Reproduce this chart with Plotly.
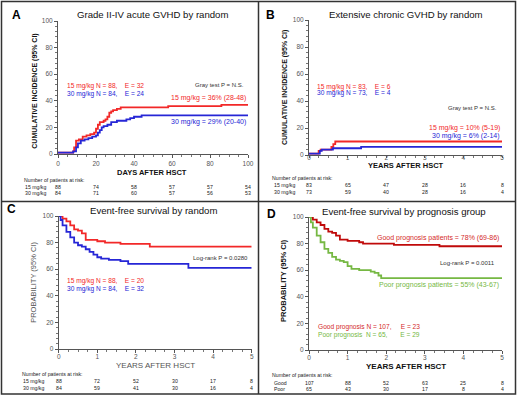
import plotly.graph_objects as go

# ---------------- data ----------------
# Panel A: Grade II-IV acute GVHD (days)
a_red_t = [0, 8, 8.5, 9.5, 11, 13, 15, 17, 19, 20, 21, 22, 24, 25, 26, 27, 28, 29, 31, 33, 58, 86, 100]
a_red_v = [1, 2, 5, 10, 11, 13, 14, 15, 16, 19, 22, 24, 25, 26, 28, 31, 32, 33, 34, 35, 36, 37, 37]
a_blue_t = [0, 8, 9.5, 10.5, 12, 14, 16, 18, 20, 21, 22, 23, 24, 26, 28, 31, 36, 38, 40, 44, 100]
a_blue_v = [1, 2, 5, 8, 10, 11, 12, 13, 14, 16, 18, 20, 21, 22, 24, 25, 26, 27, 28, 29, 29]

# Panel B: extensive chronic GVHD (years)
b_red_t = [0, 0.25, 0.3, 0.52, 0.58, 0.63, 0.68, 5]
b_red_v = [1, 3, 4, 4, 6, 8, 10, 10]
b_blue_t = [0, 0.28, 0.33, 0.62, 1.35, 5]
b_blue_v = [1, 3, 4, 5, 6, 6]

# Panel C: EFS by random
c_red_t = [0, 0.1, 0.2, 0.3, 0.4, 0.5, 0.6, 0.7, 1.0, 1.2, 1.6, 2.36, 5]
c_red_v = [100, 98, 96, 93, 90, 89, 87, 82, 81, 80, 79, 77, 77]
c_blue_t = [0, 0.05, 0.1, 0.2, 0.3, 0.4, 0.5, 0.6, 0.7, 0.8, 0.9, 1.0, 1.1, 1.3, 1.6, 1.8, 3.36, 5]
c_blue_v = [100, 97, 93, 88, 84, 80, 78, 77, 75, 73, 71, 69, 68, 67, 66, 64, 61, 61]

# Panel D: EFS by prognosis group
d_good_t = [0, 0.1, 0.2, 0.3, 0.4, 0.5, 0.6, 0.7, 0.8, 1.0, 1.3, 1.4, 2.2, 3.38, 5]
d_good_v = [100, 98, 96, 94, 91, 89, 88, 86, 83, 82, 81, 80, 79, 78, 78]
d_poor_t = [0, 0.05, 0.1, 0.2, 0.3, 0.4, 0.5, 0.6, 0.7, 0.8, 0.9, 1.0, 1.1, 1.3, 1.6, 1.7, 1.8, 1.87, 5]
d_poor_v = [100, 96, 92, 86, 81, 76, 73, 70, 68, 67, 66, 63, 61, 60, 59, 58, 56, 54, 54]

# Risk tables
a_risk_x = [0, 20, 40, 60, 80, 100]
a_risk_15 = [88, 74, 58, 57, 57, 54]
a_risk_30 = [84, 71, 60, 57, 56, 53]
yr_risk_x = [0, 1, 2, 3, 4, 5]
b_risk_15 = [83, 65, 47, 28, 16, 8]
b_risk_30 = [73, 59, 40, 28, 16, 4]
c_risk_15 = [88, 72, 52, 30, 17, 8]
c_risk_30 = [84, 59, 41, 30, 16, 4]
d_risk_good = [107, 88, 52, 63, 25, 8]
d_risk_poor = [65, 43, 30, 17, 8, 4]

RED = "#f22828"
BLUE = "#2626d6"
DRED = "#c00a0a"
GREEN = "#76b843"
FONT = "Liberation Sans, Arial, sans-serif"

W, H = 520, 399
def px(p): return p / W
def py(p): return 1 - p / H

fig = go.Figure()

# axes geometry in pixels: (x0, x1, ytop, ybottom)
panels = {
    "1": (58, 248, 21, 154),
    "2": (309, 502, 20, 155),
    "3": (58.7, 251.7, 216, 349),
    "4": (309, 502, 217, 350),
}
xranges = {"1": [0, 100], "2": [0, 5], "3": [0, 5], "4": [0, 5]}
xdt = {"1": 20, "2": 1, "3": 1, "4": 1}
xminor = {"1": 5, "2": 0.25, "3": 0.25, "4": 0.25}
xstand = {"1": 0, "2": -6, "3": -2, "4": -2}
xticklen = {"1": 3, "2": 2, "3": 3, "4": 3}
layout_axes = {}
for k, (x0, x1, yt, yb) in panels.items():
    xa = "xaxis" if k == "1" else f"xaxis{k}"
    ya = "yaxis" if k == "1" else f"yaxis{k}"
    layout_axes[xa] = dict(
        domain=[px(x0), px(x1)], range=xranges[k], dtick=xdt[k], tick0=0,
        anchor="y" if k == "1" else f"y{k}", automargin=False,
        showline=True, linecolor="#555", linewidth=1, showgrid=False, zeroline=False,
        ticks="outside", ticklen=xticklen[k], tickcolor="#555", ticklabelstandoff=xstand[k],
        minor=dict(ticks="outside", ticklen=2, dtick=xminor[k], tickcolor="#777"),
        tickfont=dict(family=FONT, size=6.5, color="#555"),
        fixedrange=True,
    )
    layout_axes[ya] = dict(
        domain=[py(yb), py(yt)], range=[0, 100], dtick=20, tick0=0,
        anchor="x" if k == "1" else f"x{k}", automargin=False,
        showline=True, linecolor="#555", linewidth=1, showgrid=False, zeroline=False,
        ticks="outside", ticklen=3, tickcolor="#555",
        minor=dict(ticks="outside", ticklen=2, dtick=4, tickcolor="#777"),
        tickfont=dict(family=FONT, size=6.5, color="#555"),
        fixedrange=True,
    )

def add_line(t, v, color, k, width=1.8):
    fig.add_trace(go.Scatter(
        x=t, y=v, mode="lines", line=dict(color=color, width=width, shape="hv"),
        xaxis="x" if k == "1" else f"x{k}", yaxis="y" if k == "1" else f"y{k}",
        showlegend=False, hoverinfo="skip", cliponaxis=False))

add_line(a_red_t, a_red_v, RED, "1")
add_line(a_blue_t, a_blue_v, BLUE, "1")
add_line(b_red_t, b_red_v, RED, "2")
add_line(b_blue_t, b_blue_v, BLUE, "2")
add_line(c_red_t, c_red_v, RED, "3")
add_line(c_blue_t, c_blue_v, BLUE, "3")
add_line(d_good_t, d_good_v, DRED, "4")
add_line(d_poor_t, d_poor_v, GREEN, "4")

ann = []
def txt(x, y, s, size=7, color="#222", xanchor="center", xref="paper", yref="paper", bold=False, angle=0):
    if bold:
        s = f"<b>{s}</b>"
    ann.append(dict(x=x, y=y, text=s, xref=xref, yref=yref, showarrow=False,
                    xanchor=xanchor, yanchor="middle", textangle=angle,
                    font=dict(family=FONT, size=size, color=color)))

# Panel letters and titles
txt(px(16), py(15), "A", 12, "#000", bold=True)
txt(px(270.5), py(15), "B", 12, "#000", bold=True)
txt(px(11), py(209), "C", 12, "#000", bold=True)
txt(px(271), py(214), "D", 12, "#000", bold=True)
txt(px(152.5), py(14.7), "Grade II-IV acute GVHD by random", 9.6, "#111")
txt(px(405.8), py(14.7), "Extensive chronic GVHD by random", 9.6, "#111")
txt(px(153.7), py(210), "Event-free survival by random", 9.6, "#111")
txt(px(404.3), py(211.7), "Event-free survival by prognosis group", 9.6, "#111")

# Y axis titles
txt(px(35), py(91.7), "CUMULATIVE INCIDENCE (95% CI)", 7, "#111", bold=True, angle=-90)
txt(px(285), py(88), "CUMULATIVE INCIDENCE (95% CI)", 7, "#111", bold=True, angle=-90)
txt(px(33.3), py(282.5), "PROBABILITY (95% CI)", 7.5, "#555", angle=-90)
txt(px(283), py(281), "PROBABILITY (95% CI)", 7.5, "#111", bold=True, angle=-90)

# X axis titles
txt(px(152), py(172.3), "DAYS AFTER HSCT", 7.5, "#111", bold=True)
txt(px(405.5), py(165.8), "YEARS AFTER HSCT", 7.5, "#111", bold=True)
txt(px(155), py(365.7), "YEARS AFTER HSCT", 8, "#555")
txt(px(405.5), py(366), "YEARS AFTER HSCT", 8, "#111", bold=True)

# In-plot annotations
IS = 6.6
txt(3.7, 51, "15 mg/kg N = 88,&nbsp;&nbsp;&nbsp;&nbsp;E = 32", IS, RED, "left", "x", "y")
txt(3.7, 45, "30 mg/kg N = 84,&nbsp;&nbsp;&nbsp;&nbsp;E = 24", IS, BLUE, "left", "x", "y")
txt(99, 52, "Gray test P = N.S.", 6, "#333", "right", "x", "y")
txt(100, 42, "15 mg/kg = 36% (28-48)", 7, RED, "right", "x", "y")
txt(100, 24, "30 mg/kg = 29% (20-40)", 7, BLUE, "right", "x", "y")

txt(0.15, 50.6, "15 mg/kg N = 83,&nbsp;&nbsp;&nbsp;&nbsp;E = 6", IS, RED, "left", "x2", "y2")
txt(0.15, 45.7, "30 mg/kg N = 73,&nbsp;&nbsp;&nbsp;&nbsp;E = 4", IS, BLUE, "left", "x2", "y2")
txt(4.93, 35, "Gray test P = N.S.", 6, "#333", "right", "x2", "y2")
txt(5.0, 20, "15 mg/kg = 10% (5-19)", 7, RED, "right", "x2", "y2")
txt(5.0, 14, "30 mg/kg = 6% (2-14)", 7, BLUE, "right", "x2", "y2")

txt(5.06, 80.5, "15 mg/kg = 77% (68-85)", 7, RED, "right", "x3", "y3")
txt(4.95, 68.4, "Log-rank P = 0.0280", 6, "#333", "right", "x3", "y3")
txt(5.06, 56.4, "30 mg/kg = 61% (50-72)", 7, BLUE, "right", "x3", "y3")
txt(0.16, 50.9, "15 mg/kg N = 88,&nbsp;&nbsp;&nbsp;&nbsp;E = 20", IS, RED, "left", "x3", "y3")
txt(0.16, 45, "30 mg/kg N = 84,&nbsp;&nbsp;&nbsp;&nbsp;E = 32", IS, BLUE, "left", "x3", "y3")

txt(4.97, 84, "Good prognosis patients = 78% (69-86)", 7, "#d42a2a", "right", "x4", "y4")
txt(4.87, 65.6, "Log-rank P = 0.0011", 6, "#333", "right", "x4", "y4")
txt(4.97, 48.9, "Poor prognosis patients = 55% (43-67)", 7, GREEN, "right", "x4", "y4")
txt(0.18, 17, "Good prognosis N = 107,&nbsp;&nbsp;&nbsp;&nbsp;&nbsp;E = 23", IS, "#d42a2a", "left", "x4", "y4")
txt(0.18, 11.3, "Poor prognosis&nbsp;&nbsp;N = 65,&nbsp;&nbsp;&nbsp;&nbsp;&nbsp;&nbsp;&nbsp;E = 29", IS, GREEN, "left", "x4", "y4")

# Risk tables
RS = 5.2
def risk(xref, xs, vals1, vals2, lab1, lab2, hdr_x, hdr_y, r1, r2, lab_x):
    txt(px(hdr_x), py(hdr_y), "Number of patients at risk:", RS, "#222", "left")
    txt(px(lab_x), py(r1), lab1, RS, "#222", "left")
    txt(px(lab_x), py(r2), lab2, RS, "#222", "left")
    for x, v1, v2 in zip(xs, vals1, vals2):
        txt(x, py(r1), str(v1), RS, "#222", "center", xref)
        txt(x, py(r2), str(v2), RS, "#222", "center", xref)

risk("x", a_risk_x, a_risk_15, a_risk_30, "15 mg/kg", "30 mg/kg", 21.5, 180, 187.3, 193.3, 23)
risk("x2", yr_risk_x, b_risk_15, b_risk_30, "15 mg/kg", "30 mg/kg", 270, 177.5, 184.7, 192, 272)
risk("x3", yr_risk_x, c_risk_15, c_risk_30, "15 mg/kg", "30 mg/kg", 20, 374.3, 381.3, 387.7, 21)
risk("x4", yr_risk_x, d_risk_good, d_risk_poor, "Good", "Poor", 270, 374.7, 382.7, 389, 272)

shapes = [
    dict(type="rect", xref="paper", yref="paper", x0=px(1.5), x1=px(515.5), y0=py(394), y1=py(1.5),
         line=dict(color="#333", width=1.5), fillcolor="rgba(0,0,0,0)"),
    dict(type="line", xref="paper", yref="paper", x0=px(258.5), x1=px(258.5), y0=py(394), y1=py(1.5),
         line=dict(color="#333", width=1.5)),
    dict(type="line", xref="paper", yref="paper", x0=px(1.5), x1=px(515.5), y0=py(201.5), y1=py(201.5),
         line=dict(color="#333", width=1.5)),
]

fig.update_layout(
    width=W, height=H, autosize=False,
    margin=dict(l=0, r=0, t=0, b=0),
    paper_bgcolor="white", plot_bgcolor="white",
    annotations=ann, shapes=shapes, showlegend=False,
    **layout_axes,
)

fig.write_html("out.html", config={"displayModeBar": False},
               post_script="document.body.style.margin='0';document.body.style.overflow='hidden';")
